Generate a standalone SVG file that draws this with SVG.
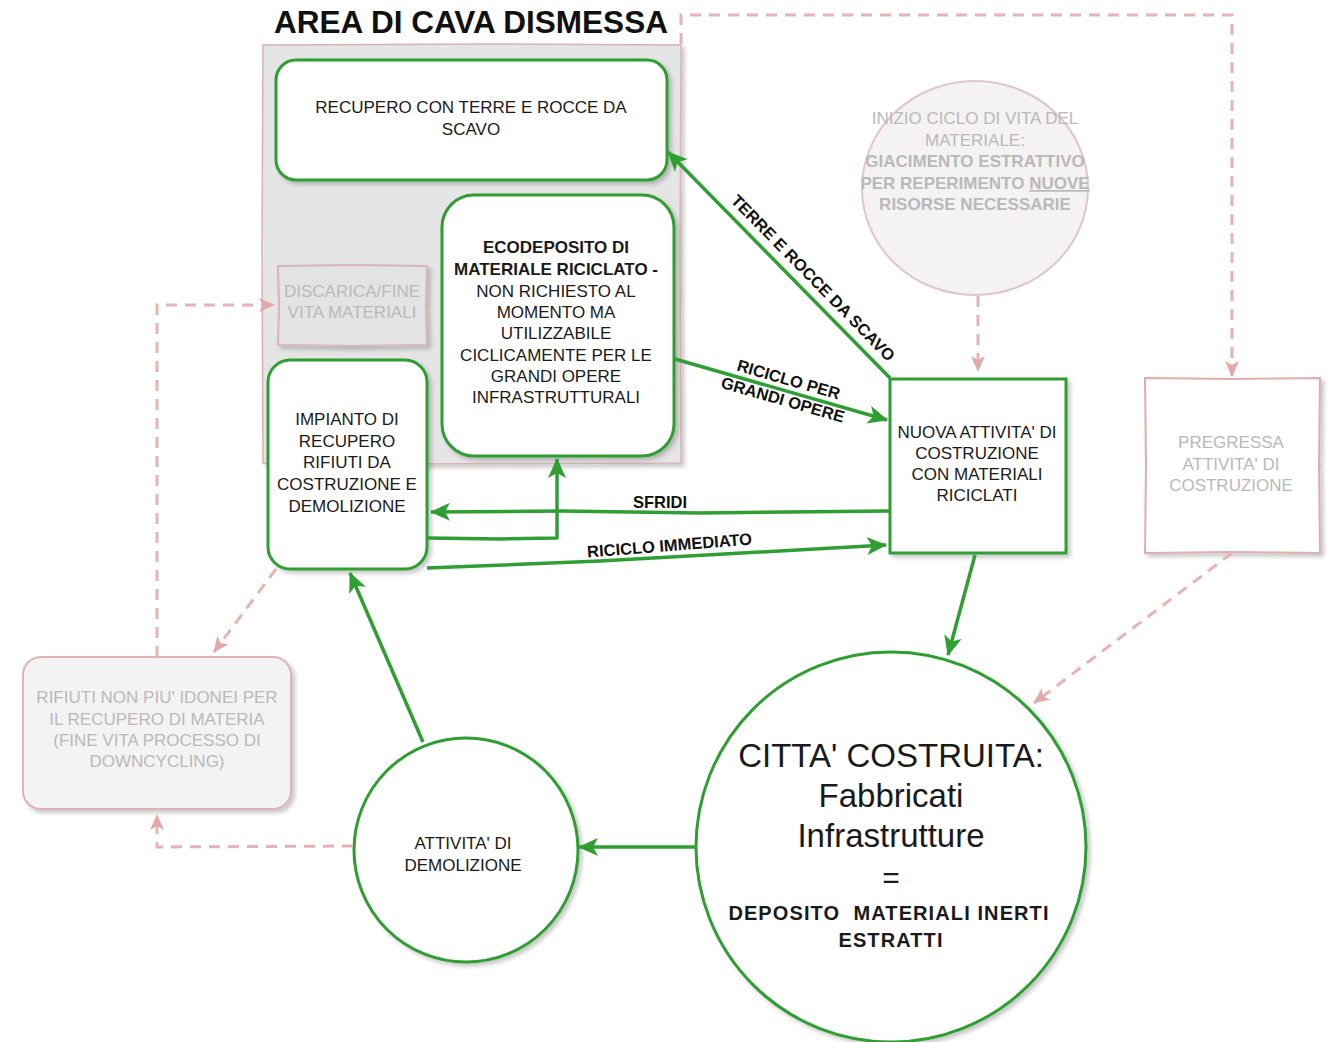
<svg xmlns="http://www.w3.org/2000/svg" width="1330" height="1042" viewBox="0 0 1330 1042">
  <style>
    .t { font-family: "Liberation Sans", Arial, sans-serif; font-size: 17px; fill: #1a1a1a; text-anchor: middle; }
    .b { font-weight: bold; }
    .g { fill: #b9b9b9; }
    .lbl { font-family: "Liberation Sans", Arial, sans-serif; font-size: 16.5px; font-weight: bold; fill: #111; text-anchor: middle; }
    .node-green { fill: #ffffff; stroke: #2f9e33; stroke-width: 3; }
    .node-pale { fill: #ffffff; stroke: #dcb0b0; stroke-width: 2; }
    .flow { fill: none; stroke: #2f9e33; stroke-width: 3.5; stroke-linejoin: round; marker-end: url(#arrowGreen); }
    .dash { fill: none; stroke: #e6b3b3; stroke-width: 3; stroke-dasharray: 11 8; marker-end: url(#arrowPink); }
  </style>
  <defs>
    <marker id="arrowGreen" markerUnits="userSpaceOnUse" markerWidth="22" markerHeight="20" refX="19" refY="10" orient="auto">
      <path d="M0,1 L20,10 L0,19 L5,10 Z" fill="#2f9e33"/>
    </marker>
    <marker id="arrowPink" markerUnits="userSpaceOnUse" markerWidth="18" markerHeight="16" refX="15" refY="8" orient="auto">
      <path d="M0,1 L16,8 L0,15 L4,8 Z" fill="#e2a9a9"/>
    </marker>
    <filter id="shadow" x="-10%" y="-10%" width="130%" height="130%">
      <feDropShadow dx="3" dy="3" stdDeviation="2" flood-color="#000" flood-opacity="0.22"/>
    </filter>
  </defs>

  <rect width="1330" height="1042" fill="#ffffff"/>

  <!-- Quarry area container -->
  <g id="area-cava">
    <path d="M263,45 L500,44 L681,45 L680,250 L681,463 L400,464 L263,463 L262,250 Z" fill="#e5e5e5" stroke="#d6b4b4" stroke-width="1.5" filter="url(#shadow)"/>
    <text x="471" y="33" style="font-family: 'Liberation Sans', Arial, sans-serif; font-size: 31.5px; font-weight: bold; fill: #111;" text-anchor="middle">AREA DI CAVA DISMESSA</text>
  </g>

  <!-- Nodes -->
  <g id="recupero-terre">
    <rect x="276" y="60" width="391" height="120" rx="20" class="node-green" filter="url(#shadow)"/>
    <text class="t" x="471" y="113">RECUPERO CON TERRE E ROCCE DA</text>
    <text class="t" x="471" y="135">SCAVO</text>
  </g>

  <g id="ecodeposito">
    <rect x="442" y="195" width="232" height="261" rx="32" class="node-green" filter="url(#shadow)"/>
    <text class="t b" x="556" y="253">ECODEPOSITO DI</text>
    <text class="t b" x="556" y="275">MATERIALE RICICLATO -</text>
    <text class="t" x="556" y="297">NON RICHIESTO AL</text>
    <text class="t" x="556" y="318">MOMENTO MA</text>
    <text class="t" x="556" y="339">UTILIZZABILE</text>
    <text class="t" x="556" y="361">CICLICAMENTE PER LE</text>
    <text class="t" x="556" y="382">GRANDI OPERE</text>
    <text class="t" x="556" y="403">INFRASTRUTTURALI</text>
  </g>

  <g id="discarica">
    <path d="M278,266 L352,265 L427,266 L426,306 L427,345 L352,346 L278,345 L279,306 Z" fill="#e3e3e3" stroke="#d8b4b4" stroke-width="2" filter="url(#shadow)"/>
    <text class="t g" x="352" y="297">DISCARICA/FINE</text>
    <text class="t g" x="352" y="318">VITA MATERIALI</text>
  </g>

  <g id="impianto">
    <rect x="268" y="360" width="159" height="209" rx="22" class="node-green" filter="url(#shadow)"/>
    <text class="t" x="347" y="425">IMPIANTO DI</text>
    <text class="t" x="347" y="447">RECUPERO</text>
    <text class="t" x="347" y="468">RIFIUTI DA</text>
    <text class="t" x="347" y="490">COSTRUZIONE E</text>
    <text class="t" x="347" y="512">DEMOLIZIONE</text>
  </g>

  <g id="nuova-attivita">
    <rect x="890" y="379" width="176" height="174" class="node-green" filter="url(#shadow)"/>
    <text class="t" x="977" y="438">NUOVA ATTIVITA' DI</text>
    <text class="t" x="977" y="459">COSTRUZIONE</text>
    <text class="t" x="977" y="480">CON MATERIALI</text>
    <text class="t" x="977" y="501">RICICLATI</text>
  </g>

  <g id="pregressa">
    <path d="M1145,378 L1232,379 L1320,378 L1319,465 L1320,553 L1232,552 L1145,553 L1146,465 Z" class="node-pale" filter="url(#shadow)"/>
    <text class="t g" x="1231" y="448">PREGRESSA</text>
    <text class="t g" x="1231" y="470">ATTIVITA' DI</text>
    <text class="t g" x="1231" y="491">COSTRUZIONE</text>
  </g>

  <g id="inizio-ciclo">
    <ellipse cx="975" cy="188" rx="113" ry="107" fill="#f4f2f2" stroke="#e2c6c6" stroke-width="2"/>
    <text class="t g" x="975" y="124">INIZIO CICLO DI VITA DEL</text>
    <text class="t g" x="975" y="146">MATERIALE:</text>
    <text class="t g b" x="975" y="167">GIACIMENTO ESTRATTIVO</text>
    <text class="t g b" x="975" y="189">PER REPERIMENTO <tspan text-decoration="underline">NUOVE</tspan></text>
    <text class="t g b" x="975" y="210">RISORSE NECESSARIE</text>
  </g>

  <g id="citta-costruita">
    <circle cx="891" cy="847" r="195" class="node-green" filter="url(#shadow)"/>
    <text class="t" x="891" y="767" style="font-size: 33px;">CITTA' COSTRUITA:</text>
    <text class="t" x="891" y="807" style="font-size: 33px;">Fabbricati</text>
    <text class="t" x="891" y="847" style="font-size: 33px;">Infrastrutture</text>
    <text class="t" x="891" y="888" style="font-size: 30px;">=</text>
    <text class="t b" x="889" y="920" xml:space="preserve" style="font-size: 20px; letter-spacing: 1.1px;">DEPOSITO  MATERIALI INERTI</text>
    <text class="t b" x="891" y="947" style="font-size: 20px; letter-spacing: 1.1px;">ESTRATTI</text>
  </g>

  <g id="demolizione">
    <circle cx="466" cy="850" r="112" class="node-green" filter="url(#shadow)"/>
    <text class="t" x="463" y="849">ATTIVITA' DI</text>
    <text class="t" x="463" y="871">DEMOLIZIONE</text>
  </g>

  <g id="rifiuti-non-idonei">
    <rect x="23" y="657" width="268" height="152" rx="18" fill="#f3f3f3" stroke="#dcb4b4" stroke-width="2" filter="url(#shadow)"/>
    <text class="t g" x="157" y="703">RIFIUTI NON PIU' IDONEI PER</text>
    <text class="t g" x="157" y="725">IL RECUPERO DI MATERIA</text>
    <text class="t g" x="157" y="746">(FINE VITA PROCESSO DI</text>
    <text class="t g" x="157" y="767">DOWNCYCLING)</text>
  </g>

  <!-- Connectors -->
  <g id="connectors">
    <!-- main (green) flows -->
    <path class="flow" d="M890,378 L668,152"/>
    <path class="flow" d="M675,359 L887,420"/>
    <path class="flow" d="M890,511 L700,513 L560,511 L431,512"/>
    <path class="flow" d="M428,538 L500,539 L557,538 L557,459"/>
    <path class="flow" d="M427,568 L600,561 L886,545"/>
    <path class="flow" d="M975,555 L948,655"/>
    <path class="flow" d="M695,847 L579,847"/>
    <path class="flow" d="M423,742 L350,573"/>

    <!-- pale (dashed) flows -->
    <path class="dash" d="M681,44 L681,15 L1232,15 L1232,376"/>
    <path class="dash" d="M978,296 L978,371"/>
    <path class="dash" d="M1232,553 L1034,703"/>
    <path class="dash" d="M276,569 L214,652"/>
    <path class="dash" d="M353,846 L157,847 L157,815"/>
    <path class="dash" d="M157,657 L157,305 L274,305"/>

    <!-- labels -->
    <text class="lbl" transform="translate(809,282) rotate(45.5)">TERRE E ROCCE DA SCAVO</text>
    <g transform="translate(787,385) rotate(16)">
      <text class="lbl" x="0" y="0">RICICLO PER</text>
      <text class="lbl" x="0" y="21">GRANDI OPERE</text>
    </g>
    <text class="lbl" x="660" y="508">SFRIDI</text>
    <text class="lbl" transform="translate(670,551) rotate(-4.5)">RICICLO IMMEDIATO</text>
  </g>
</svg>
